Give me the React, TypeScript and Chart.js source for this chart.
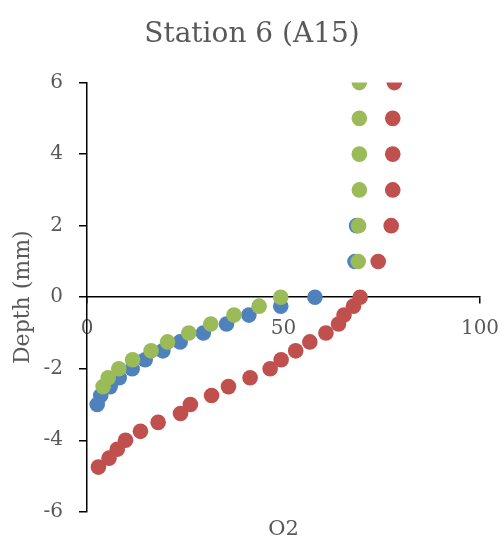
import React, { useEffect, useRef } from "react";
import { Chart, registerables } from "chart.js";

Chart.register(...registerables);

const blueO2 = [2.6, 3.5, 5.9, 8.2, 11.5, 14.8, 19.3, 23.7, 29.6, 35.5, 41.2, 49.3, 58.0, 68.2, 68.6];
const blueDepth = [-3, -2.75, -2.5, -2.25, -2, -1.75, -1.5, -1.25, -1, -0.75, -0.5, -0.25, 0, 1, 2];

const redO2 = [2.9, 5.6, 7.7, 9.8, 13.6, 18.1, 23.8, 26.3, 31.7, 36.0, 41.5, 46.6, 49.4, 53.1, 56.7, 60.8, 64.0, 65.4, 67.8, 69.5, 74.1, 77.4, 77.8, 77.8, 77.8, 78.2];
const redDepth = [-4.75, -4.5, -4.25, -4, -3.75, -3.5, -3.25, -3, -2.75, -2.5, -2.25, -2, -1.75, -1.5, -1.25, -1, -0.75, -0.5, -0.25, 0, 1, 2, 3, 4, 5, 6];

const greenO2 = [4.1, 5.4, 8.1, 11.6, 16.3, 20.5, 25.9, 31.5, 37.4, 43.8, 49.3, 69.0, 69.1, 69.3, 69.3, 69.3, 69.3];
const greenDepth = [-2.5, -2.25, -2, -1.75, -1.5, -1.25, -1, -0.75, -0.5, -0.25, 0, 1, 2, 3, 4, 5, 6];

const xTicks = [0, 50, 100];
const yTicks = [-6, -4, -2, 0, 2, 4, 6];

const FONT = "'DejaVu Serif', serif";
const TEXT = "#595959";

function toPoints(xs: number[], ys: number[]) {
  return xs.map((x, i) => ({ x, y: ys[i] }));
}

export default function App() {
  const ref = useRef<HTMLCanvasElement | null>(null);
  useEffect(() => {
    document.body.style.margin = "0";
    const canvas = ref.current;
    if (!canvas) return;
    const mk = (label: string, xs: number[], ys: number[], color: string, order: number) => ({
      label,
      data: toPoints(xs, ys),
      backgroundColor: color,
      borderColor: color,
      borderWidth: 0,
      pointRadius: 7.8,
      pointHoverRadius: 7.8,
      showLine: false,
      order,
    });
    const chart = new Chart(canvas, {
      type: "scatter",
      data: {
        datasets: [
          mk("Series 1", blueO2, blueDepth, "#4F81BD", 2),
          mk("Series 2", redO2, redDepth, "#C0504D", 1),
          mk("Series 3", greenO2, greenDepth, "#9BBB59", 0),
        ],
      },
      options: {
        responsive: false,
        animation: false,
        events: [],
        layout: { padding: { top: 0, right: 0, left: 0, bottom: 0 } },
        plugins: {
          legend: { display: false },
          tooltip: { enabled: false },
          title: {
            display: true,
            text: "Station 6 (A15)",
            color: TEXT,
            font: { family: FONT, size: 28, weight: "normal" },
            padding: { top: 18, bottom: 31 },
          },
        },
        scales: {
          x: {
            type: "linear",
            position: { y: 0 } as any,
            min: 0,
            max: 100,
            afterBuildTicks: (scale: any) => {
              scale.ticks = xTicks.map((v) => ({ value: v }));
            },
            afterFit: (scale: any) => {
              scale.paddingRight = 24;
              scale.paddingLeft = 0;
            },
            grid: { drawOnChartArea: false, drawTicks: true, tickLength: 6, color: "#000", lineWidth: 1.5 },
            border: { display: true, color: "#000", width: 1.5 },
            ticks: { color: TEXT, padding: 14, font: { family: FONT, size: 20 }, maxRotation: 0 },
          },
          x2: {
            type: "linear",
            position: "bottom",
            min: 0,
            max: 100,
            grid: { display: false, drawTicks: false },
            border: { display: false },
            ticks: { display: false },
            title: {
              display: true,
              text: "O2",
              color: TEXT,
              font: { family: FONT, size: 21 },
              padding: { top: 5, bottom: 5 },
            },
          },
          y: {
            type: "linear",
            min: -6,
            max: 6,
            afterBuildTicks: (scale: any) => {
              scale.ticks = yTicks.map((v) => ({ value: v }));
            },
            afterFit: (scale: any) => {
              scale.width = 87;
            },
            grid: { drawOnChartArea: false, drawTicks: true, tickLength: 8, color: "#000", lineWidth: 1.5 },
            border: { display: true, color: "#000", width: 1.5 },
            ticks: { color: TEXT, padding: 16, font: { family: FONT, size: 20 } },
            title: {
              display: true,
              text: "Depth (mm)",
              color: TEXT,
              font: { family: FONT, size: 22 },
              padding: { top: 10, bottom: 0 },
            },
          },
        },
      },
    } as any);
    return () => chart.destroy();
  }, []);
  return (
    <div style={{ width: 504, height: 547 }}>
      <canvas ref={ref} width={504} height={547} />
    </div>
  );
}
